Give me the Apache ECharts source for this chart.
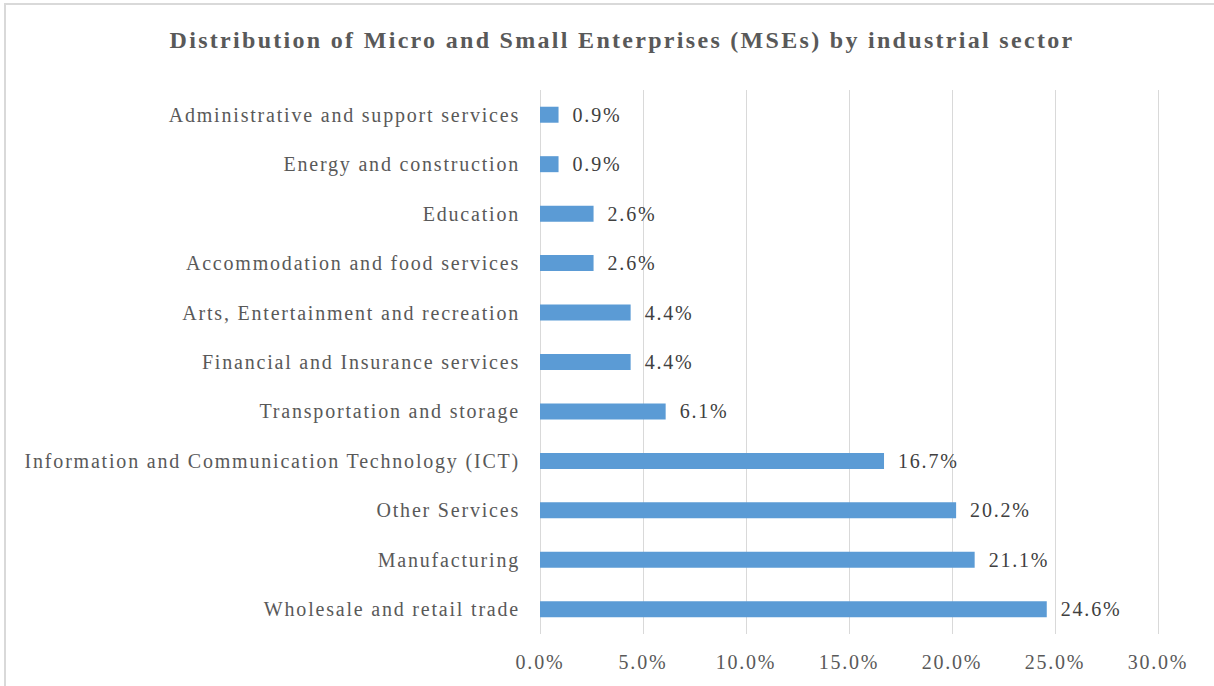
<!DOCTYPE html>
<html><head><meta charset="utf-8">
<script src="https://cdn.jsdelivr.net/npm/echarts@6/dist/echarts.min.js"></script>
<style>
html,body{margin:0;padding:0;background:#fff}
#c{width:1214px;height:686px}
#c text{letter-spacing:1.8px}
#c text.ttl{letter-spacing:2.3px}
</style>
</head><body><div id="c"></div>
<script>
const categories = [
  "Wholesale and retail trade",
  "Manufacturing",
  "Other Services",
  "Information and Communication Technology (ICT)",
  "Transportation and storage",
  "Financial and Insurance services",
  "Arts, Entertainment and recreation",
  "Accommodation and food services",
  "Education",
  "Energy and construction",
  "Administrative and support services"
];
const values = [24.6, 21.1, 20.2, 16.7, 6.1, 4.4, 4.4, 2.6, 2.6, 0.9, 0.9];
const titleText = "Distribution of Micro and Small Enterprises (MSEs) by industrial sector";

const font = "'Liberation Serif', 'Times New Roman', serif";
const chart = echarts.init(document.getElementById('c'), null, {renderer:'svg'});
chart.setOption({
  backgroundColor: '#fff',
  animation: false,
  graphic: [{
    type: 'rect', shape: {x: 5, y: 4, width: 1300, height: 800},
    style: {fill: 'none', stroke: '#d9d9d9', lineWidth: 2}, silent: true, z: -1
  }, {
    type: 'text', x: 622, y: 40, silent: true,
    style: {text: titleText, align: 'center', verticalAlign: 'middle',
      font: "bold 24px 'Liberation Serif', 'Times New Roman', serif", fill: '#595959'}
  }],
  grid: {left: 540, right: 56, top: 90, bottom: 52, containLabel: false},
  xAxis: {
    type: 'value', min: 0, max: 30, interval: 5,
    axisLine: {show: false}, axisTick: {show: false},
    splitLine: {lineStyle: {color: '#d9d9d9', width: 1}},
    axisLabel: {formatter: v => v.toFixed(1) + '%', fontFamily: font, fontSize: 20, color: '#595959', margin: 18}
  },
  yAxis: {
    type: 'category', data: categories,
    axisLine: {show: false}, axisTick: {show: false},
    axisLabel: {fontFamily: font, fontSize: 20, color: '#595959', margin: 20}
  },
  series: [{
    type: 'bar', data: values, barWidth: 16,
    itemStyle: {color: '#5b9bd5'},
    label: {show: true, position: 'right', distance: 14, formatter: p => p.value.toFixed(1) + '%',
      fontFamily: font, fontSize: 20, color: '#404040'}
  }]
});
document.querySelectorAll('#c text').forEach(t => {
  if (t.textContent === titleText) t.classList.add('ttl');
});
</script></body></html>
